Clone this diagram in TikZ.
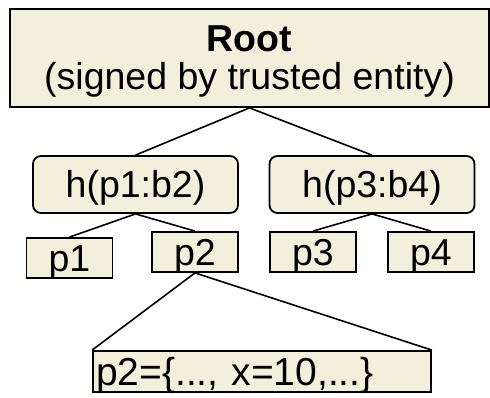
\documentclass[tikz,border=0pt]{standalone}
\usepackage{fontspec}
\setmainfont{Liberation Sans}
\definecolor{boxfill}{RGB}{242,240,220}
\begin{document}
\begin{tikzpicture}[x=1pt,y=-1pt,
  every node/.style={font=\fontsize{37.5}{38}\selectfont},
  box/.style={draw=black, line width=1.8pt, fill=boxfill, inner sep=0pt},
  leaf/.style={box, minimum width=86pt, minimum height=40pt, text height=26pt, text depth=0pt},
  hashbox/.style={box, rounded corners=8pt, minimum width=205pt, minimum height=57pt, text height=25pt, text depth=0pt},
  edge/.style={line width=1.6pt}]
\useasboundingbox (0,0) rectangle (490,397);
% signed root of the hash tree
\node[box, minimum width=479pt, minimum height=98pt, align=center] (root) at (249.5,58)
  {\textbf{Root}\rule{0pt}{32pt}\\(signed by trusted entity)};
% inner hash nodes
\node[hashbox] (h12) at (135.5,184.5) {h(p1:b2)};
\node[hashbox] (h34) at (372,184.5) {h(p3:b4)};
% leaves
\node[leaf] (p1) at (69.5,258) {p1};
\node[leaf] (p2) at (195,252) {p2};
\node[leaf] (p3) at (313,252) {p3};
\node[leaf] (p4) at (431,252) {p4};
% contents of leaf p2
\node[box, minimum height=41pt, text width=332pt, inner xsep=3pt, align=left,
  font=\fontsize{39}{40}\selectfont,
  text height=27pt, text depth=0pt] (val) at (262,371.5) {p2=\{..., x=10,...\}};
% tree edges
\draw[edge] (root.south) -- (h12.north);
\draw[edge] (root.south) -- (h34.north);
\draw[edge] (h12.south) -- (p1.north);
\draw[edge] (h12.south) -- (p2.north);
\draw[edge] (h34.south) -- (p3.north);
\draw[edge] (h34.south) -- (p4.north);
\draw[edge] (p2.south) -- (val.north west);
\draw[edge] (p2.south) -- (val.north east);
\end{tikzpicture}
\end{document}
